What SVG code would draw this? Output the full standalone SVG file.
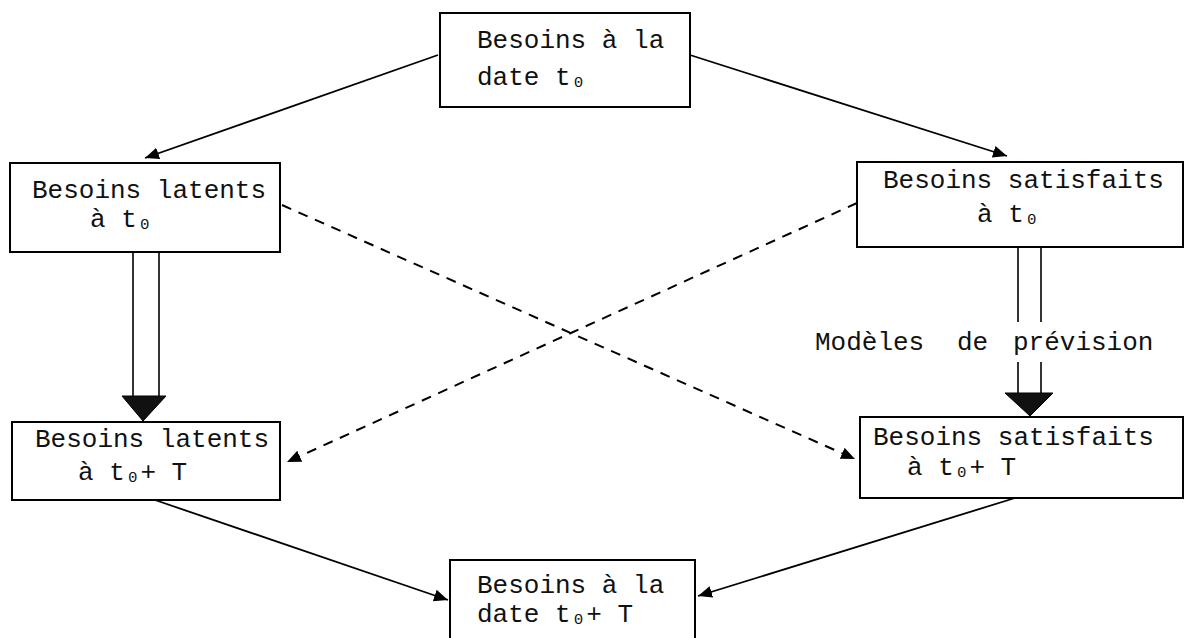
<svg xmlns="http://www.w3.org/2000/svg" width="1186" height="638" viewBox="0 0 1186 638">
<style>
.box{fill:#fff;stroke:#000;stroke-width:2}
.t{font-family:"Liberation Mono","DejaVu Sans Mono",monospace;font-size:26px;fill:#111}
.c{fill:none;stroke:#000;stroke-width:1.8}
.d{fill:none;stroke:#000;stroke-width:2;stroke-dasharray:10 8}
.dbl{fill:none;stroke:#000;stroke-width:1.6}
.tri{fill:#111;stroke:#000;stroke-width:1}
</style>
<defs>
<marker id="ah" markerUnits="userSpaceOnUse" markerWidth="16" markerHeight="14" refX="14" refY="6" orient="auto">
<path d="M0,0 L14,6 L0,12 Z" fill="#000"/>
</marker>
</defs>
<rect width="1186" height="638" fill="#fff"/>
<g id="connectors">
<line class="c" x1="438" y1="55" x2="145" y2="158" marker-end="url(#ah)"/>
<line class="c" x1="690" y1="55" x2="1007" y2="156" marker-end="url(#ah)"/>
<line class="d" x1="282" y1="205" x2="855" y2="459" marker-end="url(#ah)"/>
<line class="d" x1="857" y1="203" x2="287" y2="462" marker-end="url(#ah)"/>
<line class="c" x1="155" y1="500" x2="448" y2="600" marker-end="url(#ah)"/>
<line class="c" x1="1015" y1="498" x2="698" y2="596" marker-end="url(#ah)"/>
<line class="dbl" x1="133" y1="252" x2="133" y2="397"/>
<line class="dbl" x1="159" y1="252" x2="159" y2="397"/>
<polygon class="tri" points="122,396 166,396 143,421"/>
<line class="dbl" x1="1018" y1="247" x2="1018" y2="322"/>
<line class="dbl" x1="1041" y1="247" x2="1041" y2="322"/>
<line class="dbl" x1="1018" y1="362" x2="1018" y2="394"/>
<line class="dbl" x1="1041" y1="362" x2="1041" y2="394"/>
<polygon class="tri" points="1005,393 1053,393 1030,416"/>
<text class="t" x="815" y="350">Modèles</text>
<text class="t" x="957" y="350">de</text>
<text class="t" x="1013" y="350">prévision</text>
</g>
<g id="n1">
<rect class="box" x="440" y="13" width="250" height="94"/>
<text class="t" x="477" y="48">Besoins à la</text>
<text class="t" x="477" y="85">date t₀</text>
</g>
<g id="n2">
<rect class="box" x="10" y="163" width="270" height="89"/>
<text class="t" x="32" y="198">Besoins latents</text>
<text class="t" x="90" y="227">à t₀</text>
</g>
<g id="n3">
<rect class="box" x="857" y="162" width="326" height="85"/>
<text class="t" x="883" y="188">Besoins satisfaits</text>
<text class="t" x="977" y="222">à t₀</text>
</g>
<g id="n4">
<rect class="box" x="12" y="422" width="268" height="78"/>
<text class="t" x="35" y="447">Besoins latents</text>
<text class="t" x="78" y="480">à t₀+ T</text>
</g>
<g id="n5">
<rect class="box" x="860" y="417" width="323" height="81"/>
<text class="t" x="873" y="445">Besoins satisfaits</text>
<text class="t" x="907" y="475">à t₀+ T</text>
</g>
<g id="n6">
<rect class="box" x="450" y="560" width="245" height="80"/>
<text class="t" x="477" y="593">Besoins à la</text>
<text class="t" x="477" y="622">date t₀+ T</text>
</g>
</svg>
